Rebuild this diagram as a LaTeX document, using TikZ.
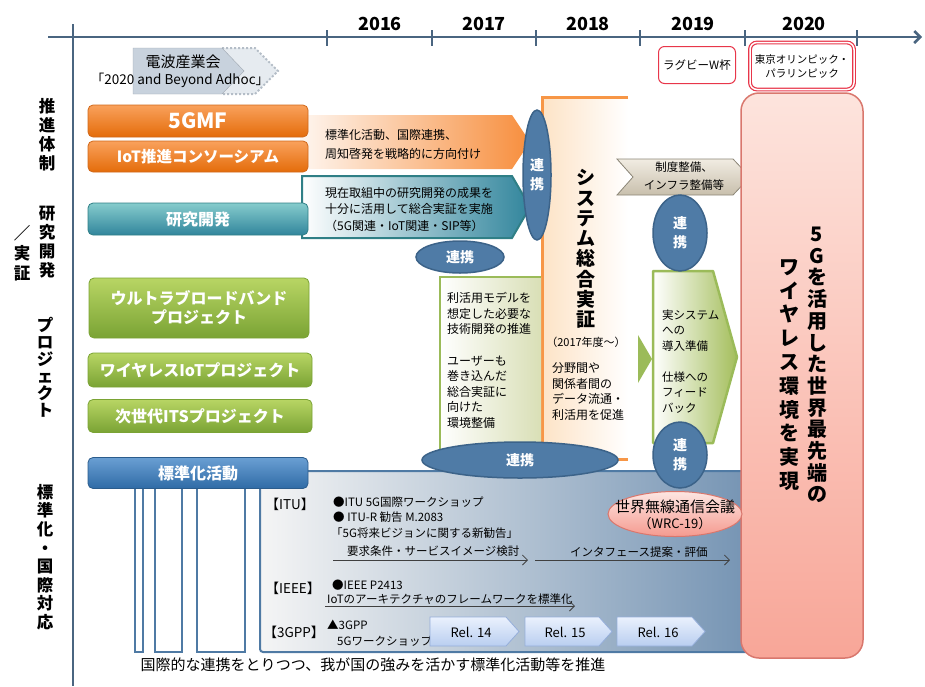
\documentclass[tikz,border=0pt]{standalone}
\usepackage{fontspec}
\setmainfont{Noto Sans CJK JP}
\usetikzlibrary{shapes.geometric,arrows.meta}

\definecolor{axisc}{HTML}{4A6580}
\definecolor{orgtop}{HTML}{F9A15C}
\definecolor{orgbot}{HTML}{E46C0A}
\definecolor{orgline}{HTML}{D0681A}
\definecolor{orgarrow}{HTML}{F78E3D}
\definecolor{tltop}{HTML}{86CCCC}
\definecolor{tlbot}{HTML}{31859C}
\definecolor{tlline}{HTML}{2F7F86}
\definecolor{grtop}{HTML}{B8D564}
\definecolor{grbot}{HTML}{7AA334}
\definecolor{grline}{HTML}{9BBB59}
\definecolor{grpale}{HTML}{D9DFB6}
\definecolor{grpent}{HTML}{A4BE5C}
\definecolor{bltop}{HTML}{6A9FD3}
\definecolor{blbot}{HTML}{2F6BA6}
\definecolor{blline}{HTML}{2B5C8C}
\definecolor{rkfill}{HTML}{4F7BA6}
\definecolor{rkline}{HTML}{3C6389}
\definecolor{sysline}{HTML}{F79646}
\definecolor{sysfill}{HTML}{FDE3C6}
\definecolor{pinktop}{HTML}{FDE4DD}
\definecolor{pinkbot}{HTML}{F8A698}
\definecolor{pinkline}{HTML}{D9776D}
\definecolor{stdblue}{HTML}{5B80A6}
\definecolor{stdline}{HTML}{4F7AA4}
\definecolor{reltop}{HTML}{EAF1FD}
\definecolor{relbot}{HTML}{B9CEF0}
\definecolor{relline}{HTML}{95AEDA}
\definecolor{chevtop}{HTML}{F1ECE2}
\definecolor{chevbot}{HTML}{C8BFAC}
\definecolor{chevline}{HTML}{8C8677}
\definecolor{arib}{HTML}{C8D2DD}
\definecolor{evred}{HTML}{E8364A}
\definecolor{wrctop}{HTML}{FDE6E2}
\definecolor{wrcbot}{HTML}{F59A8F}

\tikzset{
  sizebox/.style={rounded corners=5pt, minimum width=220pt, inner sep=0pt, line width=0.8pt, text=white, font=\fontsize{16}{19}\selectfont\bfseries, align=center},
  orgbox/.style={sizebox, draw=orgline, top color=orgtop, bottom color=orgbot},
  tlbox/.style={sizebox, draw=tlline, top color=tltop, bottom color=tlbot},
  grbox/.style={sizebox, draw=grbot, top color=grtop, bottom color=grbot},
  blbox/.style={sizebox, draw=blline, top color=bltop, bottom color=blbot},
  renkei/.style={ellipse, draw=rkline, fill=rkfill, line width=1.5pt, inner sep=0pt, text=white, font=\fontsize{14}{19}\selectfont\bfseries, align=center},
  sidelab/.style={inner sep=0pt, align=center, font=\fontsize{16.5}{19}\selectfont\bfseries},
  memo/.style={inner sep=0pt, anchor=west, align=left, font=\fontsize{12}{16}\selectfont},
  year/.style={inner sep=0pt, font=\fontsize{18}{20}\selectfont\bfseries},
  std/.style={inner sep=0pt, anchor=west, font=\fontsize{11.5}{14}\selectfont},
  stdhead/.style={inner sep=0pt, font=\fontsize{13.5}{15}\selectfont},
  flow/.style={-{Straight Barb[length=5pt,width=10pt]}, line width=0.8pt, draw=black!75},
  timeline/.style={line width=2.5pt, draw=axisc},
  relbox/.style={draw=relline, line width=0.8pt, top color=reltop, bottom color=relbot},
  goaltxt/.style={inner sep=0pt, align=center, font=\fontsize{20}{21.7}\selectfont\bfseries},
}

\begin{document}
\begin{tikzpicture}[x=1pt,y=-1pt]
\useasboundingbox (0,0) rectangle (925,686);

\draw[timeline] (73,24) -- (73,686);
\draw[timeline, -{Straight Barb[length=6pt,width=12pt]}] (48,37) -- (922,37);
\draw[timeline] (327,30) -- (327,46);
\draw[timeline] (432,30) -- (432,46);
\draw[timeline] (536,30) -- (536,46);
\draw[timeline] (640,30) -- (640,46);
\draw[timeline] (745,30) -- (745,46);
\draw[timeline] (857,30) -- (857,46);
\node[year] (y16) at (380,24) {2016};
\node[year] (y17) at (484,24) {2017};
\node[year] (y18) at (588,24) {2018};
\node[year] (y19) at (693,24) {2019};
\node[year] (y20) at (804,24) {2020};

\node[sidelab] (suishin) at (47,135) {推\\進\\体\\制};
\node[sidelab] (kenkyu) at (47,242) {研\\究\\開\\発};
\node[sidelab, font=\fontsize{16.5}{20}\selectfont\bfseries] (jissho) at (22,253) {／\\実\\証};
\node[sidelab, font=\fontsize{16.5}{17}\selectfont\bfseries] (proj) at (45,367) {プ\\ロ\\ジ\\ェ\\ク\\ト};
\node[sidelab, font=\fontsize{16.5}{18.6}\selectfont\bfseries] (hyojun) at (45,557) {標\\準\\化\\・\\国\\際\\対\\応};

\fill[arib!45] (222,48) -- (255,48) -- (278,71) -- (255,94) -- (222,94) -- cycle;
\draw[arib!90!black, dotted, line width=2pt] (222,48) -- (255,48) -- (278,71) -- (255,94) -- (222,94);
\draw[fill=arib, draw=arib!80!black] (133,48) -- (222,48) -- (244,71) -- (222,94) -- (133,94) -- cycle;
\node[inner sep=0pt, font=\fontsize{15}{17}\selectfont] (arib1) at (183,62) {電波産業会};
\node[inner sep=0pt, font=\fontsize{13.5}{15}\selectfont] (arib2) at (180,80) {「2020 and Beyond Adhoc」};

\node[draw=evred, line width=1pt, fill=white, rounded corners=6pt, minimum width=77pt, minimum height=37pt, inner sep=0pt, font=\fontsize{11.5}{14}\selectfont] (rugby) at (697,65) {ラグビーW杯};
\node[draw=evred, double=white, double distance=1.5pt, line width=1.2pt, rounded corners=7pt, minimum width=104pt, minimum height=47pt, inner sep=0pt, align=center, font=\fontsize{10.5}{14}\selectfont] (tokyo) at (802,66) {東京オリンピック・\\パラリンピック};

\draw[draw=stdline, line width=2pt, left color=black!4, right color=stdblue, rounded corners=3pt] (260,471) rectangle (850,652);
\draw[stdline, line width=2.5pt, fill=white] (135,488) rectangle (143,652);
\draw[stdline, line width=2.5pt, fill=white] (155,488) rectangle (182,652);
\draw[stdline, line width=2.5pt, fill=white] (197,488) rectangle (245,652);

\shade[left color=orgarrow!8, right color=orgarrow] (300,115) -- (512,115) -- (530,142) -- (512,169) -- (300,169) -- cycle;
\draw[tlline, line width=2pt, left color=white, right color=tlbot] (302,176) -- (512,176) -- (530,207) -- (512,238) -- (302,238) -- cycle;
\node[memo, font=\fontsize{12}{19}\selectfont] (memo1) at (325,144.5) {標準化活動、国際連携、\\周知啓発を戦略的に方向付け};
\node[memo, font=\fontsize{12}{16.5}\selectfont] (memo2) at (325,209.5) {現在取組中の研究開発の成果を\\十分に活用して総合実証を実施\\（5G関連・IoT関連・SIP等）};

\shade[left color=sysfill, middle color=sysfill, right color=white] (542,97) rectangle (628,459);
\draw[sysline, line width=3pt] (628,97) -- (542,97) -- (542,459) -- (628,459);
\node[inner sep=0pt, align=center, font=\fontsize{19}{20.3}\selectfont\bfseries] (systxt) at (586,249) {シ\\ス\\テ\\ム\\総\\合\\実\\証};
\node[inner sep=0pt, font=\fontsize{11}{13}\selectfont] (sysyear) at (586,342) {（2017年度～）};
\node[memo, font=\fontsize{12}{15.7}\selectfont] (memo4) at (552,391.5) {分野間や\\関係者間の\\データ流通・\\利活用を促進};

\shade[left color=white, right color=grpale] (440,277) rectangle (541,452);
\draw[grline, line width=2.5pt] (440,452) -- (440,277) -- (541,277);
\node[memo, font=\fontsize{12}{15.6}\selectfont] (memo3) at (447,360.5) {利活用モデルを\\想定した必要な\\技術開発の推進\\[15.6pt]ユーザーも\\巻き込んだ\\総合実証に\\向けた\\環境整備};

\fill[grline] (638,335) -- (652,359) -- (638,383) -- cycle;
\draw[grline, line width=2.5pt, left color=white, right color=grpent, line join=round] (653,271) -- (713,271) -- (737,357) -- (713,443) -- (653,443) -- cycle;
\node[memo, font=\fontsize{11.5}{15.5}\selectfont] (memo5) at (662,361.5) {実システム\\への\\導入準備\\[15.5pt]仕様への\\フィード\\バック};

\draw[draw=chevline, line width=0.8pt, top color=chevtop, bottom color=chevbot] (617,159) -- (733,159) -- (750,177) -- (733,195) -- (617,195) -- (633,177) -- cycle;
\node[inner sep=0pt, align=center, font=\fontsize{11.5}{18}\selectfont] (seido) at (684,176) {制度整備、\\インフラ整備等};

\node[draw=pinkline, line width=1.5pt, rounded corners=18pt, top color=pinktop, bottom color=pinkbot, minimum width=122pt, minimum height=565pt] (goal) at (802,375.5) {};
\node[goaltxt] (goal1) at (817,365) {5\\G\\を\\活\\用\\し\\た\\世\\界\\最\\先\\端\\の};
\node[goaltxt, font=\fontsize{20}{23.8}\selectfont\bfseries] (goal2) at (789,375) {ワ\\イ\\ヤ\\レ\\ス\\環\\境\\を\\実\\現};

\node[renkei, minimum width=28pt, minimum height=130pt] (rk1) at (537,175) {連\\携};
\node[renkei, minimum width=88pt, minimum height=32pt] (rk2) at (460,257) {連携};
\node[renkei, minimum width=196pt, minimum height=36pt] (rk3) at (520,460) {連携};
\node[renkei, minimum width=54pt, minimum height=76pt] (rk4) at (680,233) {連\\携};
\node[renkei, minimum width=54pt, minimum height=66pt] (rk5) at (680,455) {連\\携};

\node[orgbox, minimum height=32pt, font=\fontsize{21}{24}\selectfont\bfseries] (gmf) at (198,121) {5GMF};
\node[orgbox, minimum height=31pt, font=\fontsize{15.5}{18}\selectfont\bfseries] (iot) at (198,156.5) {IoT推進コンソーシアム};
\node[tlbox, minimum height=32pt] (rd) at (198,219) {研究開発};
\node[grbox, minimum height=60pt] (ubb) at (199,308) {ウルトラブロードバンド\\プロジェクト};
\node[grbox, minimum height=34pt, minimum width=224pt] (wiot) at (200,370) {ワイヤレスIoTプロジェクト};
\node[grbox, minimum height=33pt, minimum width=224pt] (its) at (200,416) {次世代ITSプロジェクト};
\node[blbox, minimum height=31pt] (stdact) at (198,473) {標準化活動};

\node[ellipse, draw=pinkline, line width=1pt, top color=wrctop, bottom color=wrcbot, minimum width=134pt, minimum height=45pt] (wrc) at (675,514) {};
\node[inner sep=0pt, align=center, font=\fontsize{15}{16}\selectfont] (wrctxt) at (675,515) {世界無線通信会議\\{\fontsize{13}{14}\selectfont （WRC-19）}};

\node[stdhead] (itu) at (290,504) {【ITU】};
\node[std] (itu1) at (333,502) {●ITU 5G国際ワークショップ};
\node[std] (itu2) at (333,517) {● ITU-R 勧告 M.2083};
\node[std] (itu3) at (331,533) {「5G将来ビジョンに関する新勧告」};
\node[std] (itu4) at (347,551) {要求条件・サービスイメージ検討};
\node[std] (itu5) at (570,552) {インタフェース提案・評価};
\coordinate (a1s) at (333,560);
\coordinate (a1e) at (528,560);
\coordinate (a2s) at (535,560);
\coordinate (a2e) at (730,560);
\draw[flow] (a1s) -- (a1e);
\draw[flow] (a2s) -- (a2e);

\node[stdhead] (ieee) at (293,588) {【IEEE】};
\node[std] (ieee1) at (332,585) {●IEEE P2413};
\node[std] (ieee2) at (327,599) {IoTのアーキテクチャのフレームワークを標準化};
\coordinate (a3s) at (325,606);
\coordinate (a3e) at (575,606);
\draw[flow] (a3s) -- (a3e);

\node[stdhead] (gpp) at (294,632) {【3GPP】};
\node[std] (gpp1) at (327,625) {▲3GPP};
\node[std] (gpp2) at (337,641) {5Gワークショップ};
\draw[relbox] (430,617) -- (506,617) -- (519,631.5) -- (506,646) -- (430,646) -- cycle;
\draw[relbox] (525,617) -- (599,617) -- (612,631.5) -- (599,646) -- (525,646) -- cycle;
\draw[relbox] (617,617) -- (692,617) -- (705,631.5) -- (692,646) -- (617,646) -- cycle;
\node[inner sep=0pt, font=\fontsize{13}{15}\selectfont] (rel14) at (471,632) {Rel. 14};
\node[inner sep=0pt, font=\fontsize{13}{15}\selectfont] (rel15) at (565,632) {Rel. 15};
\node[inner sep=0pt, font=\fontsize{13}{15}\selectfont] (rel16) at (658,632) {Rel. 16};

\node[inner sep=0pt, font=\fontsize{15}{17}\selectfont] (bottom) at (373,665) {国際的な連携をとりつつ、我が国の強みを活かす標準化活動等を推進};
\end{tikzpicture}
\end{document}
